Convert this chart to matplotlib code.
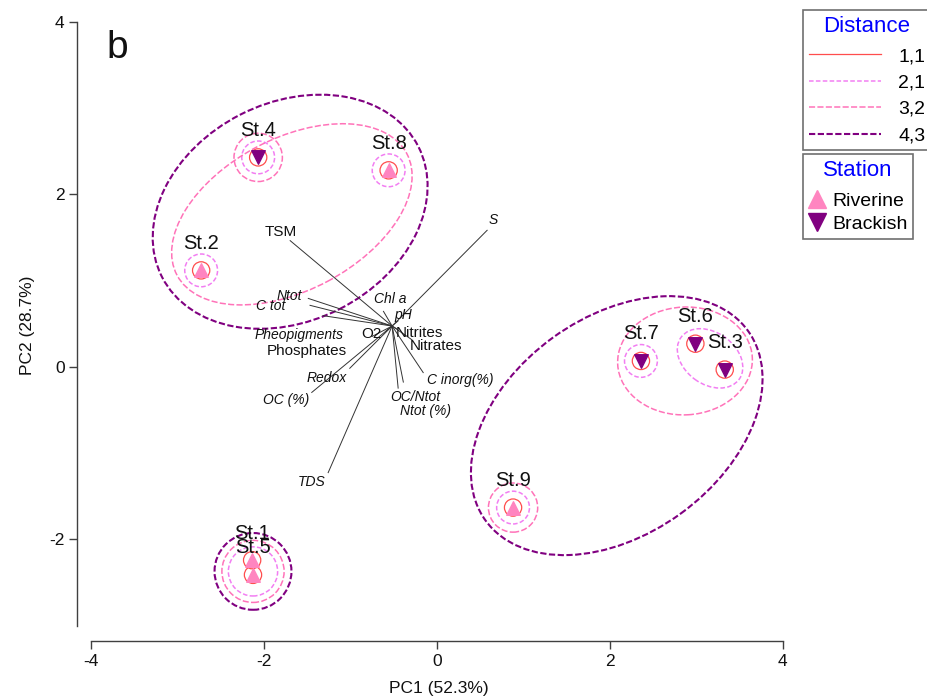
import matplotlib
matplotlib.use('Agg')
import matplotlib.pyplot as plt
from matplotlib.patches import Ellipse
from matplotlib.lines import Line2D

# station scores on the first two principal components
stations = ['St.1', 'St.2', 'St.3', 'St.4', 'St.5', 'St.6', 'St.7', 'St.8', 'St.9']
pc1 = [-2.14, -2.73, 3.33, -2.07, -2.13, 2.99, 2.36, -0.56, 0.88]
pc2 = [-2.24, 1.12, -0.03, 2.43, -2.41, 0.27, 0.07, 2.28, -1.63]
station_type = ['Riverine', 'Riverine', 'Brackish', 'Brackish', 'Riverine',
                'Brackish', 'Brackish', 'Riverine', 'Riverine']

# cluster outlines per distance level: centre x, centre y, width, height, angle
dist_levels = ['1,1', '2,1', '3,2', '4,3']
outline_11 = [(x, y, 0.20, 0.20, 0) for x, y in zip(pc1, pc2)]
outline_21 = [(-2.73, 1.12, 0.38, 0.38, 0), (-2.07, 2.43, 0.38, 0.38, 0),
              (-0.56, 2.28, 0.38, 0.38, 0), (2.36, 0.07, 0.38, 0.38, 0),
              (0.88, -1.63, 0.38, 0.38, 0), (3.16, 0.10, 0.83, 0.60, -36),
              (-2.13, -2.37, 0.57, 0.57, 0)]
outline_32 = [(-2.07, 2.43, 0.56, 0.56, 0), (0.88, -1.63, 0.57, 0.57, 0),
              (-1.68, 1.77, 3.01, 1.76, 28), (2.87, 0.07, 1.56, 1.25, 3),
              (-2.13, -2.37, 0.72, 0.72, 0)]
outline_43 = [(-1.70, 1.80, 3.33, 2.53, 27), (2.08, -0.68, 3.75, 2.52, 36),
              (-2.13, -2.37, 0.89, 0.89, 0)]

# environmental vectors (drawn from a common origin)
vec_origin = (-0.52, 0.475)
vec_names = ['TSM', 'S', 'Ntot', 'C tot', 'Pheopigments', 'Phosphates', 'Chl a', 'pH',
             'O2', 'Nitrites', 'Nitrates', 'Redox', 'OC (%)', 'C inorg(%)', 'OC/Ntot',
             'Ntot (%)', 'TDS']
vec_dx = [-1.18, 1.10, -0.97, -0.95, -0.80, -0.23, -0.10, 0.07, -0.07, 0.05, 0.23,
          -0.49, -0.93, 0.36, 0.13, 0.07, -0.74]
vec_dy = [0.99, 1.11, 0.32, 0.24, 0.12, -0.12, 0.17, 0.06, -0.06, -0.03, -0.16,
          -0.49, -0.77, -0.54, -0.65, -0.72, -1.70]
vec_italic = [False, True, True, True, True, False, True, True, False, False, False,
              True, True, True, True, True, True]
# label offset from tip, in pixels (right, down)
lab_dx = [-9, 6, -19, -39, -24, -65, 7, 5, -15, 23, 24, -23, -26, 37, 12, 27, -17]
lab_dy = [-9, -10, -2, 1, 19, 15, -12, -6, 3, 4, 6, 10, 8, 7, 15, 23, 9]

c_red = '#FF4D4D'
c_violet = '#F27EF2'
c_pink = '#FF73B9'
c_purple = '#800080'
c_riverine = '#FF85C0'
c_brackish = '#800080'

plt.rcParams['font.family'] = ['Liberation Sans', 'DejaVu Sans']
plt.rcParams['axes.unicode_minus'] = False

fig = plt.figure(figsize=(9.28, 6.99), dpi=100)
ax = fig.add_axes([77 / 928, 58 / 699, 723 / 928, 631 / 699])
ax.set_xlim(-4.167, 4.201)
ax.set_ylim(-3.177, 4.139)

# distance outlines
styles = [
    (outline_11, c_red, '-', 0.9),
    (outline_21, c_violet, (0, (3, 1.5)), 1.1),
    (outline_32, c_pink, (0, (4, 1.5)), 1.1),
    (outline_43, c_purple, (0, (3, 1.2)), 1.5),
]
for outlines, col, ls, lw in styles:
    for cx, cy, w, h, ang in outlines:
        ax.add_patch(Ellipse((cx, cy), w, h, angle=ang, fill=False,
                             edgecolor=col, linestyle=ls, linewidth=lw, zorder=2))

# vectors
ox, oy = vec_origin
for name, dx, dy, it, ldx, ldy in zip(vec_names, vec_dx, vec_dy, vec_italic, lab_dx, lab_dy):
    ax.plot([ox, ox + dx], [oy, oy + dy], color='#333333', lw=0.7, zorder=3)
    ax.annotate(name, (ox + dx, oy + dy), xytext=(ldx * 0.72, -ldy * 0.72),
                textcoords='offset points', ha='center', va='center',
                fontsize=10 if it else 11, style='italic' if it else 'normal',
                color='#111111', zorder=4)

# stations
for kind, marker, col in [('Riverine', '^', c_riverine), ('Brackish', 'v', c_brackish)]:
    xs = [x for x, t in zip(pc1, station_type) if t == kind]
    ys = [y for y, t in zip(pc2, station_type) if t == kind]
    ax.scatter(xs, ys, marker=marker, s=95, color=col, edgecolors=col, zorder=5)
for name, x, y in zip(stations, pc1, pc2):
    ax.annotate(name, (x, y), xytext=(0, 19.5), textcoords='offset points',
                ha='center', va='center', fontsize=14.5, color='#111111', zorder=6)

# detached axes
for side in ['top', 'right']:
    ax.spines[side].set_visible(False)
for side in ['left', 'bottom']:
    ax.spines[side].set_color('#404040')
    ax.spines[side].set_linewidth(1.0)
ax.spines['left'].set_bounds(-3, 4)
ax.spines['bottom'].set_bounds(-4, 4)
ax.set_xticks([-4, -2, 0, 2, 4])
ax.set_yticks([-2, 0, 2, 4])
ax.tick_params(direction='out', length=6, width=1.0, color='#404040', pad=3,
               labelsize=12.5, labelcolor='#111111')
ax.set_xlabel('PC1 (52.3%)', fontsize=12.5, color='#111111', labelpad=9)
ax.set_ylabel('PC2 (28.7%)', fontsize=12.5, color='#111111', labelpad=10)

ax.text(-3.83, 3.7, 'b', fontsize=28, ha='left', va='center', color='#111111')

# legends
dist_handles = [Line2D([], [], color=c, linestyle=ls, linewidth=lw)
                for _, c, ls, lw in styles]
leg1 = fig.legend(dist_handles, dist_levels, title='Distance', loc='upper left',
                  bbox_to_anchor=(803 / 928, 1 - 10 / 699), borderaxespad=0,
                  fontsize=14, title_fontsize=16,
                  handlelength=3.7, handletextpad=0.9, labelspacing=0.45,
                  fancybox=False, edgecolor='#707070', framealpha=1, borderpad=0.3)
leg1.get_title().set_color('#0000FF')
leg1.get_frame().set_linewidth(1.2)
leg1._legend_box.sep = 7.8  # a bit more room under the title

st_handles = [Line2D([], [], linestyle='none', marker='^', markersize=13, color=c_riverine),
              Line2D([], [], linestyle='none', marker='v', markersize=13, color=c_brackish)]
leg2 = fig.legend(st_handles, ['Riverine', 'Brackish'], title='Station', loc='upper left',
                  bbox_to_anchor=(803 / 928, 1 - 154 / 699), borderaxespad=0,
                  fontsize=14, title_fontsize=16,
                  handlelength=0.8, handletextpad=0.4, labelspacing=0.25,
                  fancybox=False, edgecolor='#707070', framealpha=1, borderpad=0.3)
leg2.get_title().set_color('#0000FF')
leg2.get_frame().set_linewidth(1.2)
leg2._legend_box.sep = 8.5

fig.savefig('out.png', dpi=100)
